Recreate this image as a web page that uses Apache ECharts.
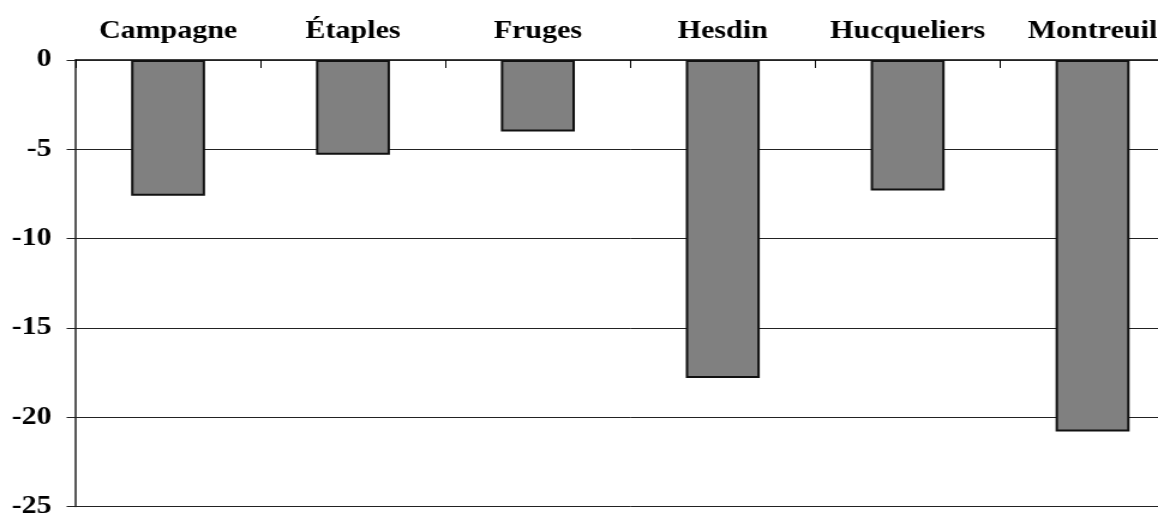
<!DOCTYPE html>
<html>
<head>
<meta charset="utf-8">
<script src="https://cdn.jsdelivr.net/npm/echarts@6/dist/echarts.min.js"></script>
<style>
  html, body { margin: 0; padding: 0; background: #fff; overflow: hidden; }
  #wrap { width: 1158px; height: 519px; overflow: hidden; }
  /* the source picture is stretched sideways, so the chart is drawn narrow and scaled */
  #chart { width: 1000px; height: 519px; transform: scaleX(1.2); transform-origin: 0 0; }
</style>
</head>
<body>
<div id="wrap"><div id="chart"></div></div>
<script>
  var cantons = ["Campagne", "Étaples", "Fruges", "Hesdin", "Hucqueliers", "Montreuil"];
  var values = [-7.6, -5.3, -4.0, -17.8, -7.3, -20.8];
  var yMin = -25, yMax = 0, yStep = 5;

  var font = { fontFamily: "Liberation Serif", fontWeight: "bold", fontSize: 25, color: "#000" };

  var chart = echarts.init(document.getElementById("chart"));
  var option = {
    animation: false,
    grid: { left: 63, top: 60, width: 924.5, height: 448, containLabel: false },
    xAxis: {
      type: "category",
      position: "top",
      data: cantons,
      axisLine: { show: true, onZero: false, lineStyle: { color: "#000", width: 1.5 } },
      axisTick: { show: true, inside: true, interval: 0, length: 8, lineStyle: { color: "#000", width: 1 } },
      axisLabel: Object.assign({ margin: 16, interval: 0, hideOverlap: false }, font),
      splitLine: { show: false }
    },
    yAxis: {
      type: "value",
      min: yMin,
      max: yMax,
      interval: yStep,
      axisLine: { show: true, lineStyle: { color: "#222", width: 1.5 } },
      axisTick: { show: true, length: 7.5, lineStyle: { color: "#222", width: 1 } },
      axisLabel: Object.assign({ margin: 20 }, font),
      splitLine: { show: true, lineStyle: { color: ["#222", "#222", "#222", "#222", "#222", "#888"], width: 1 } }
    },
    series: [{
      type: "bar",
      data: values,
      barWidth: "40%",
      itemStyle: { color: "#808080", borderColor: "#111", borderWidth: 2 }
    }]
  };
  chart.setOption(option);
</script>
</body>
</html>
